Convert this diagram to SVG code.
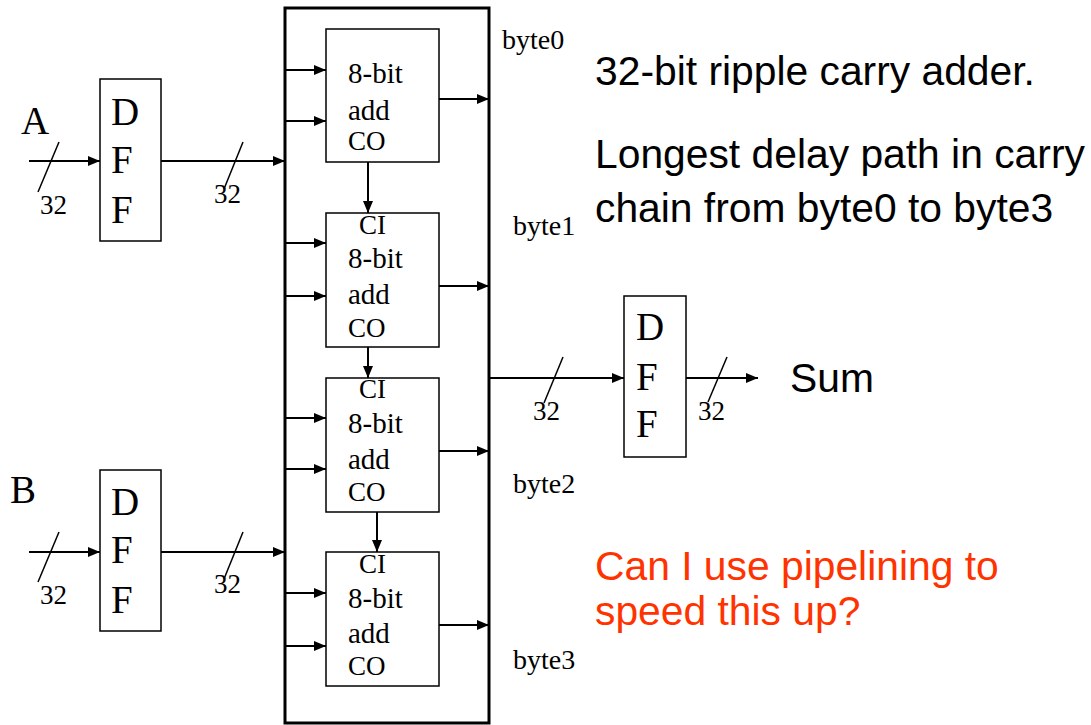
<svg xmlns="http://www.w3.org/2000/svg" width="1091" height="725" viewBox="0 0 1091 725">
<style>
.box{fill:#fff;stroke:#000;stroke-width:1.5}
.big{fill:none;stroke:#000;stroke-width:3}
.w{stroke:#000;stroke-width:2;fill:none}
.sl{stroke:#000;stroke-width:1.5;fill:none}
.t{font-family:"Liberation Serif","Times New Roman",serif;fill:#000}
.s{font-size:27px}
.m{font-size:29px}
.b{font-size:28px}
.d{font-size:39px}
.h{font-family:"Liberation Sans",Arial,sans-serif;font-size:40.8px;fill:#000}
.r{fill:#FF3300}
</style>
<defs>
<marker id="ah" markerUnits="userSpaceOnUse" markerWidth="12" markerHeight="10" refX="12" refY="5" orient="auto">
<path d="M0,0 L12,5 L0,10 z" fill="#000"/>
</marker>
</defs>
<g id="adder-frame"><rect class="big" x="285" y="8" width="204" height="715"/></g>
<g id="dffA">
<rect class="box" x="100" y="79" width="61" height="162"/>
<text class="t d" x="111" y="125">D</text>
<text class="t d" x="111" y="173">F</text>
<text class="t d" x="111" y="223">F</text>
</g>
<g id="dffB">
<rect class="box" x="100" y="470" width="61" height="161"/>
<text class="t d" x="111" y="515">D</text>
<text class="t d" x="111" y="563">F</text>
<text class="t d" x="111" y="613">F</text>
</g>
<g id="dffSum">
<rect class="box" x="624" y="296" width="62" height="161"/>
<text class="t d" x="636" y="340">D</text>
<text class="t d" x="636" y="390">F</text>
<text class="t d" x="636" y="437">F</text>
</g>
<g id="add0">
<rect class="box" x="326" y="29" width="113" height="133"/>
<text class="t m" x="348" y="83">8-bit</text>
<text class="t m" x="348" y="120">add</text>
<text class="t s" x="348" y="150">CO</text>
</g>
<g id="add1">
<rect class="box" x="326" y="213" width="113" height="134"/>
<text class="t s" x="359" y="234">CI</text>
<text class="t m" x="348" y="268">8-bit</text>
<text class="t m" x="348" y="304">add</text>
<text class="t s" x="348" y="337">CO</text>
</g>
<g id="add2">
<rect class="box" x="326" y="378" width="113" height="134"/>
<text class="t s" x="359" y="398">CI</text>
<text class="t m" x="348" y="433">8-bit</text>
<text class="t m" x="348" y="469">add</text>
<text class="t s" x="348" y="501">CO</text>
</g>
<g id="add3">
<rect class="box" x="326" y="552" width="113" height="134"/>
<text class="t s" x="359" y="573">CI</text>
<text class="t m" x="348" y="608">8-bit</text>
<text class="t m" x="348" y="643">add</text>
<text class="t s" x="348" y="675">CO</text>
</g>
<g id="connectors">
<line class="w" x1="29" y1="161" x2="100" y2="161" marker-end="url(#ah)"/>
<line class="w" x1="161" y1="161" x2="285" y2="161" marker-end="url(#ah)"/>
<line class="w" x1="29" y1="552" x2="100" y2="552" marker-end="url(#ah)"/>
<line class="w" x1="161" y1="552" x2="285" y2="552" marker-end="url(#ah)"/>
<line class="w" x1="286" y1="70" x2="326" y2="70" marker-end="url(#ah)"/>
<line class="w" x1="286" y1="121" x2="326" y2="121" marker-end="url(#ah)"/>
<line class="w" x1="286" y1="243" x2="326" y2="243" marker-end="url(#ah)"/>
<line class="w" x1="286" y1="296" x2="326" y2="296" marker-end="url(#ah)"/>
<line class="w" x1="286" y1="418" x2="326" y2="418" marker-end="url(#ah)"/>
<line class="w" x1="286" y1="469" x2="326" y2="469" marker-end="url(#ah)"/>
<line class="w" x1="286" y1="593" x2="326" y2="593" marker-end="url(#ah)"/>
<line class="w" x1="286" y1="646" x2="326" y2="646" marker-end="url(#ah)"/>
<line class="w" x1="439" y1="99" x2="489" y2="99" marker-end="url(#ah)"/>
<line class="w" x1="439" y1="286" x2="489" y2="286" marker-end="url(#ah)"/>
<line class="w" x1="439" y1="451" x2="489" y2="451" marker-end="url(#ah)"/>
<line class="w" x1="439" y1="625" x2="489" y2="625" marker-end="url(#ah)"/>
<line class="w" x1="368" y1="162" x2="368" y2="213" marker-end="url(#ah)"/>
<line class="w" x1="368" y1="347" x2="368" y2="378" marker-end="url(#ah)"/>
<line class="w" x1="377" y1="512" x2="377" y2="552" marker-end="url(#ah)"/>
<line class="w" x1="489" y1="378" x2="624" y2="378" marker-end="url(#ah)"/>
<line class="w" x1="686" y1="378" x2="758" y2="378" marker-end="url(#ah)"/>
<line class="sl" x1="59" y1="142" x2="38" y2="192"/>
<line class="sl" x1="243" y1="142" x2="224" y2="189"/>
<line class="sl" x1="59" y1="532" x2="38" y2="582"/>
<line class="sl" x1="243" y1="532" x2="224" y2="579"/>
<line class="sl" x1="563" y1="357" x2="544" y2="403"/>
<line class="sl" x1="727" y1="357" x2="708" y2="402"/>
</g>
<g id="labels">
<text class="t d" x="21" y="134">A</text>
<text class="t d" x="10" y="503">B</text>
<text class="t s" x="40" y="214">32</text>
<text class="t s" x="214" y="203">32</text>
<text class="t s" x="40" y="604">32</text>
<text class="t s" x="214" y="593">32</text>
<text class="t s" x="533" y="420">32</text>
<text class="t s" x="698" y="420">32</text>
<text class="t b" x="502" y="49">byte0</text>
<text class="t b" x="513" y="235">byte1</text>
<text class="t b" x="513" y="493">byte2</text>
<text class="t b" x="513" y="669">byte3</text>
<text class="h" x="790" y="392">Sum</text>
<text class="h" x="595" y="85">32-bit ripple carry adder.</text>
<text class="h" x="595" y="168">Longest delay path in carry</text>
<text class="h" x="595" y="222">chain from byte0 to byte3</text>
<text class="h r" x="595" y="580">Can I use pipelining to</text>
<text class="h r" x="595" y="625">speed this up?</text>
</g>
</svg>
